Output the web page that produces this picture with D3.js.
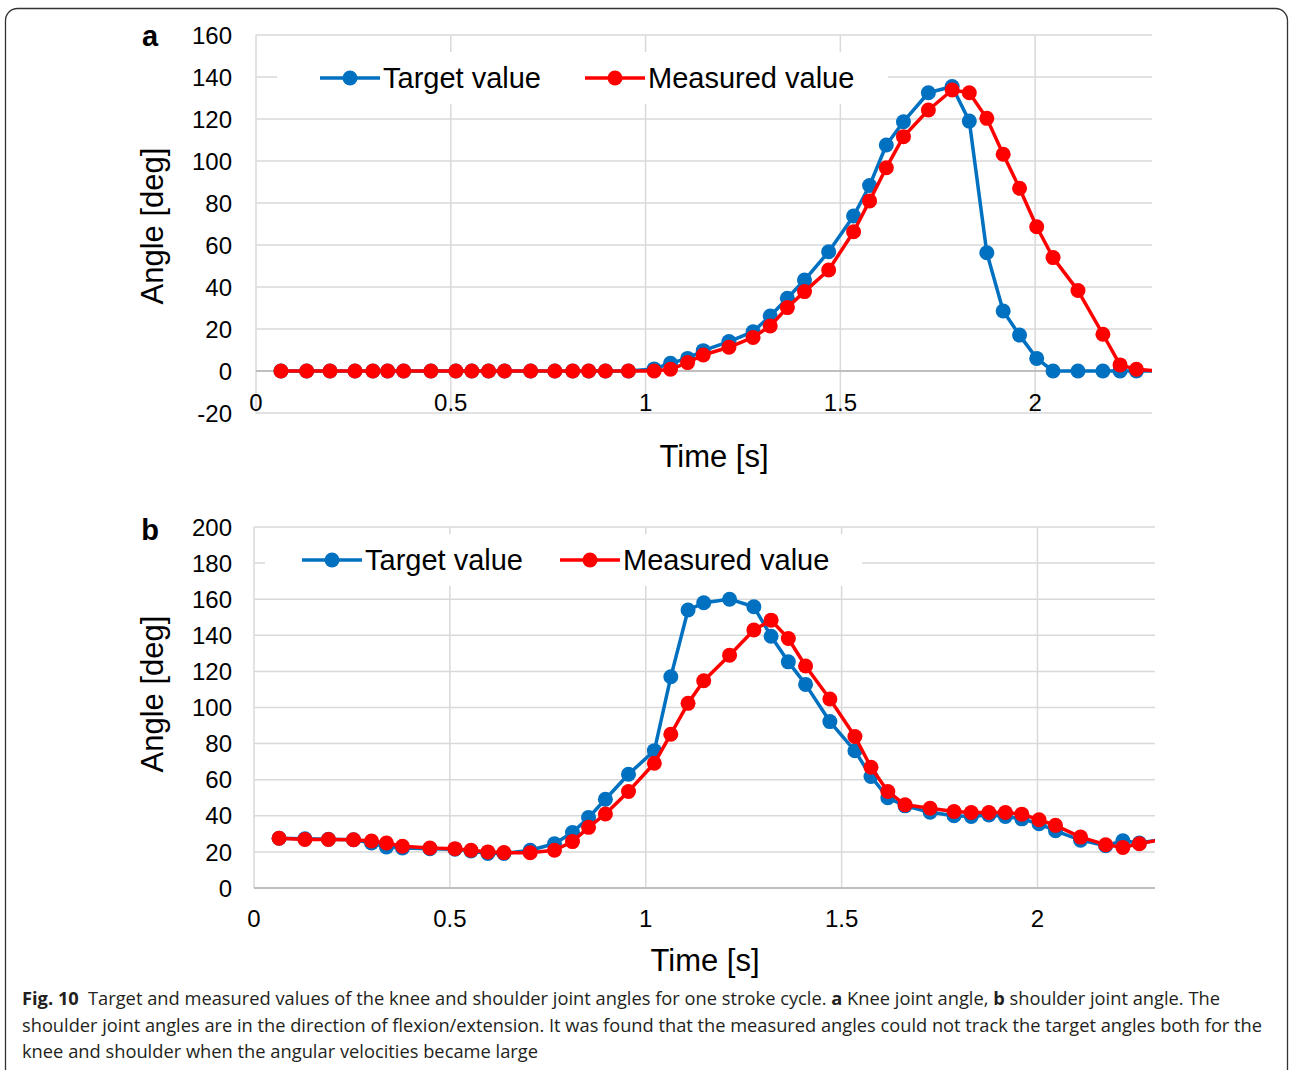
<!DOCTYPE html>
<html>
<head>
<meta charset="utf-8">
<script src="https://cdn.jsdelivr.net/npm/d3@7"></script>
<style>
  body { margin: 0; background: #fff; }
  svg text { font-family: "Liberation Sans", Arial, sans-serif; fill: #000; }
  .caption text { font-family: "Open Sans", "Noto Sans", sans-serif; fill: #231f20; }
</style>
</head>
<body>
<div id="chart"></div>
<script>

// sample times [s], shared by both panels (last one lies past the axis end and is clipped)
var time = [0.064, 0.130, 0.190, 0.254, 0.300, 0.338, 0.379, 0.449, 0.513, 0.554, 0.597, 0.638, 0.705, 0.767, 0.813, 0.854, 0.897,
            0.956, 1.022, 1.064, 1.108, 1.148, 1.214, 1.276, 1.320, 1.364, 1.408, 1.470, 1.534, 1.575, 1.618, 1.662, 1.726,
            1.787, 1.831, 1.876, 1.918, 1.960, 2.004, 2.046, 2.110, 2.174, 2.218, 2.260, 2.320];

// a: knee joint angle [deg]
var kneeTarget = [0, 0, 0, 0, 0, 0, 0, 0, 0, 0, 0, 0, 0, 0, 0, 0, 0,
                  0, 1, 3.7, 6, 9.7, 14, 18.7, 26.2, 34.6, 43.3, 56.8, 73.8, 88.3, 107.6, 118.7, 132.5,
                  135.5, 119, 56.3, 28.6, 17.1, 6, 0, 0, 0, 0, 0, 0];
var kneeMeasured = [0, 0, 0, 0, 0, 0, 0, 0, 0, 0, 0, 0, 0, 0, 0, 0, 0,
                    0, 0, 0.8, 4, 7.6, 11.3, 16, 21.4, 30.2, 37.8, 48.1, 66.3, 81, 96.8, 111.6, 124.3,
                    133.8, 132.5, 120.3, 103.2, 87, 68.7, 54, 38.3, 17.5, 2.9, 0.8, 0];

// b: shoulder joint angle [deg]
var shoulderTarget = [27.6, 27.3, 27, 26.7, 24.9, 22.7, 22.2, 21.8, 21.5, 20.5, 19.1, 19.1, 20.9, 24.5, 30.7, 39, 49.2,
                      63, 76.1, 117, 154, 158, 160, 155.8, 139.5, 125.3, 112.8, 92.2, 76, 61.8, 50, 45.5, 42,
                      40, 39.6, 40.5, 39.6, 38.3, 35.6, 31.7, 26.5, 23.4, 26.2, 24.9, 27];
var shoulderMeasured = [27.6, 26.9, 26.9, 26.7, 26, 24.9, 23.1, 22.2, 21.8, 20.9, 20, 19.6, 19.5, 20.9, 25.7, 33.6, 41,
                        53.5, 69.1, 85.2, 102.3, 114.8, 129, 142.9, 148.4, 138.2, 123, 104.7, 83.9, 66.9, 53.5, 46.1, 44.2,
                        42.4, 41.8, 41.8, 41.8, 40.9, 37.8, 34.7, 28.2, 24, 22.5, 24.5, 27];

var seriesNames = ["Target value", "Measured value"];
var seriesColors = ["#0070c0", "#ff0000"];
var xTicks = [0, 0.5, 1, 1.5, 2];
var kneeTicks = [-20, 0, 20, 40, 60, 80, 100, 120, 140, 160];
var shoulderTicks = [0, 20, 40, 60, 80, 100, 120, 140, 160, 180, 200];

var captionLines = [
  [{t: "Fig. 10", b: true}, {t: "\u2002Target and measured values of the knee and shoulder joint angles for one stroke cycle. "},
   {t: "a", b: true}, {t: " Knee joint angle, "}, {t: "b", b: true}, {t: " shoulder joint angle. The"}],
  [{t: "shoulder joint angles are in the direction of flexion/extension. It was found that the measured angles could not track the target angles both for the"}],
  [{t: "knee and shoulder when the angular velocities became large"}]
];

var W = 1290, H = 1070;

var svg = d3.select("#chart").append("svg")
    .attr("width", W)
    .attr("height", H);

// rounded frame around the figure (bottom edge runs off the page)
svg.append("rect")
    .attr("x", 5.5).attr("y", 8.5)
    .attr("width", 1282).attr("height", 1090)
    .attr("rx", 12)
    .attr("fill", "none")
    .attr("stroke", "#333")
    .attr("stroke-width", 1.3);

drawPanel({
  id: "a", letterY: 46,
  left: 256, right: 1152, top: 35, bottom: 413,
  yDomain: [-20, 160], yTicks: kneeTicks,
  xLabelY: 411, titleX: 714, titleY: 467, yTitleY: 226,
  series: [kneeTarget, kneeMeasured],
  legend: {x0: 277, x1: 888, y: 78, items: [320, 585]}
});

drawPanel({
  id: "b", letterY: 540,
  left: 254, right: 1155, top: 527, bottom: 888,
  yDomain: [0, 200], yTicks: shoulderTicks,
  xLabelY: 927, titleX: 705, titleY: 971, yTitleY: 694,
  series: [shoulderTarget, shoulderMeasured],
  legend: {x0: 265, x1: 862, y: 560, items: [302, 560]}
});

function drawPanel(p) {

  var x = d3.scaleLinear().domain([0, 2.3]).range([p.left, p.right]);
  var y = d3.scaleLinear().domain(p.yDomain).range([p.bottom, p.top]);

  var g = svg.append("g").attr("class", "panel-" + p.id);

  //grid
  g.selectAll(".hgrid").data(p.yTicks).enter().append("line")
      .attr("x1", p.left).attr("x2", p.right)
      .attr("y1", function(d) { return y(d); })
      .attr("y2", function(d) { return y(d); })
      .attr("stroke", "#d9d9d9").attr("stroke-width", 1.5);
  g.selectAll(".vgrid").data(xTicks).enter().append("line")
      .attr("y1", p.top).attr("y2", p.bottom)
      .attr("x1", function(d) { return x(d); })
      .attr("x2", function(d) { return x(d); })
      .attr("stroke", "#d9d9d9").attr("stroke-width", 1.5);

  //horizontal axis line (at 0 for the knee panel)
  g.append("line")
      .attr("x1", p.left).attr("x2", p.right)
      .attr("y1", y(0)).attr("y2", y(0))
      .attr("stroke", "#bfbfbf").attr("stroke-width", 2);

  //y tick labels
  g.selectAll(".ylab").data(p.yTicks).enter().append("text")
      .attr("x", 232)
      .attr("y", function(d) { return y(d); })
      .attr("dy", "0.36em")
      .attr("text-anchor", "end")
      .style("font-size", "24px")
      .text(function(d) { return d; });

  //x tick labels
  g.selectAll(".xlab").data(xTicks).enter().append("text")
      .attr("x", function(d) { return x(d); })
      .attr("y", p.xLabelY)
      .attr("text-anchor", "middle")
      .style("font-size", "24px")
      .text(function(d) { return d; });

  //axis titles + panel letter
  g.append("text")
      .attr("x", p.titleX)
      .attr("y", p.titleY)
      .attr("text-anchor", "middle")
      .style("font-size", "31px")
      .text("Time [s]");
  g.append("text")
      .attr("transform", "translate(152," + p.yTitleY + ") rotate(-90)")
      .attr("dy", "0.36em")
      .attr("text-anchor", "middle")
      .style("font-size", "31px")
      .text("Angle [deg]");
  g.append("text")
      .attr("x", 150).attr("y", p.letterY)
      .attr("text-anchor", "middle")
      .style("font-size", "29px")
      .style("font-weight", "bold")
      .text(p.id);

  //legend (white box hides the grid behind it)
  var lg = g.append("g");
  lg.append("rect")
      .attr("x", p.legend.x0).attr("y", p.legend.y - 26)
      .attr("width", p.legend.x1 - p.legend.x0).attr("height", 52)
      .attr("fill", "#fff");
  seriesNames.forEach(function(name, i) {
    var lx = p.legend.items[i];
    lg.append("line")
        .attr("x1", lx).attr("x2", lx + 60)
        .attr("y1", p.legend.y).attr("y2", p.legend.y)
        .attr("stroke", seriesColors[i]).attr("stroke-width", 3.5);
    lg.append("circle")
        .attr("cx", lx + 30).attr("cy", p.legend.y).attr("r", 7.5)
        .attr("fill", seriesColors[i]);
    lg.append("text")
        .attr("x", lx + 63).attr("y", p.legend.y)
        .attr("dy", "0.36em")
        .style("font-size", "29px")
        .text(name);
  });

  //clip data to the plot area
  svg.append("clipPath").attr("id", "clip-" + p.id)
    .append("rect")
      .attr("x", p.left).attr("y", p.top - 10)
      .attr("width", p.right - p.left).attr("height", p.bottom - p.top + 20);

  var line = d3.line()
      .x(function(d, i) { return x(time[i]); })
      .y(function(d) { return y(d); });

  var dg = g.append("g").attr("clip-path", "url(#clip-" + p.id + ")");

  p.series.forEach(function(vals, s) {
    dg.append("path")
        .datum(vals)
        .attr("d", line)
        .attr("fill", "none")
        .attr("stroke", seriesColors[s])
        .attr("stroke-width", 3.5)
        .attr("stroke-linejoin", "round");
    dg.selectAll(".pt" + s).data(vals).enter().append("circle")
        .attr("cx", function(d, i) { return x(time[i]); })
        .attr("cy", function(d) { return y(d); })
        .attr("r", 7.5)
        .attr("fill", seriesColors[s]);
  });
}

//caption
var cap = svg.append("g").attr("class", "caption");
var capWidths = [1198, 1240, 516];
captionLines.forEach(function(parts, i) {
  var t = cap.append("text")
      .attr("x", 22)
      .attr("y", 1005 + i * 26.5)
      .attr("textLength", capWidths[i])
      .attr("lengthAdjust", "spacingAndGlyphs")
      .style("font-size", "18px");
  parts.forEach(function(pt) {
    t.append("tspan")
        .style("font-weight", pt.b ? "bold" : "normal")
        .text(pt.t);
  });
});

</script>
</body>
</html>
